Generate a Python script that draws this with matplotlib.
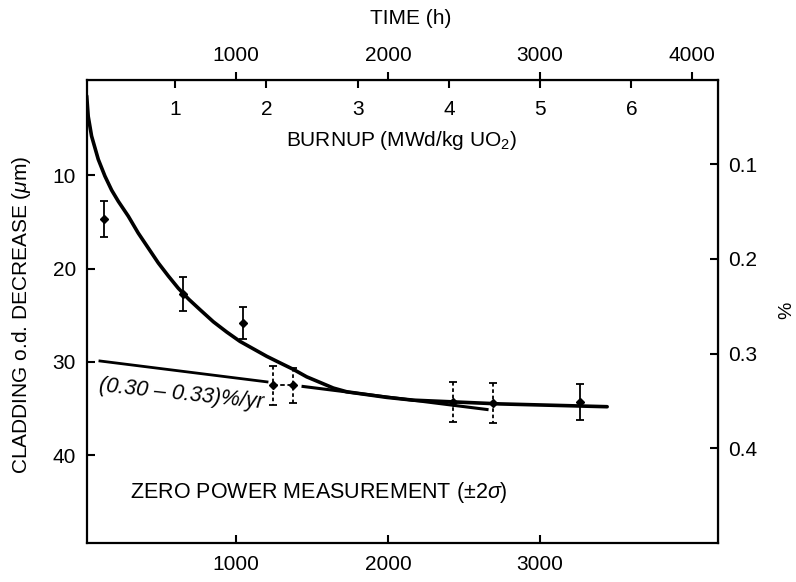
import numpy as np
import matplotlib
matplotlib.use("Agg")
import matplotlib.pyplot as plt

plt.rcParams['font.family'] = ['Liberation Sans', 'DejaVu Sans']
plt.rcParams['mathtext.fontset'] = 'custom'
plt.rcParams['mathtext.rm'] = 'Liberation Sans'
plt.rcParams['mathtext.it'] = 'Liberation Sans:italic'

# measured points: time (h), o.d. decrease (um), 2 sigma
t_pts = [132, 651, 1046, 1243, 1375, 2428, 2691, 3263]
d_pts = [14.7, 22.7, 25.8, 32.5, 32.5, 34.3, 34.4, 34.3]
err_pts = [1.9, 1.8, 1.7, 2.1, 1.9, 2.1, 2.1, 1.9]
dashed_bar = [False, False, False, True, True, True, True, False]

# fitted curve
t_curve = [18, 28, 50, 94, 138, 182, 226, 292, 357, 423, 489, 555, 620, 690,
           763, 851, 939, 1026, 1114, 1202, 1289, 1377, 1465, 1553, 1640,
           1728, 1860, 1991, 2167, 2737, 3441]
d_curve = [1.5, 3.7, 5.8, 8.3, 10.1, 11.6, 12.8, 14.4, 16.2, 17.8, 19.4, 20.8,
           22.1, 23.3, 24.4, 25.7, 26.8, 27.8, 28.6, 29.4, 30.1, 30.8, 31.6,
           32.2, 32.8, 33.2, 33.5, 33.8, 34.1, 34.5, 34.8]

# straight line (0.30-0.33)%/yr, drawn in two pieces
t_line1 = [105, 1204]
d_line1 = [29.9, 32.14]
t_line2 = [1441, 2651]
d_line2 = [32.63, 35.1]

time_ticks = [1000, 2000, 3000, 4000]
bottom_ticks = [1000, 2000, 3000]
burnup_ticks = [1, 2, 3, 4, 5, 6]
um_ticks = [10, 20, 30, 40]
pct_ticks = [0.1, 0.2, 0.3, 0.4]

fig = plt.figure(figsize=(7.96, 5.82), dpi=100)
ax = fig.add_axes([87/796, 1-543/582, (718-87)/796, (543-80)/582])

ax.plot(t_curve, d_curve, color='black', lw=2.6, solid_capstyle='round',
        solid_joinstyle='round')
ax.plot(t_line1, d_line1, color='black', lw=2.0)
ax.plot(t_line2, d_line2, color='black', lw=2.2)

for i in range(len(t_pts)):
    eb = ax.errorbar(t_pts[i], d_pts[i], yerr=err_pts[i], fmt='D', ms=4,
                     color='black', ecolor='black', elinewidth=1.3,
                     capsize=3, capthick=1.3)
    if dashed_bar[i]:
        eb[2][0].set_linestyle((0, (2, 1.5)))

# dashed link between the two points near 1300 h
ax.plot(t_pts[3:5], d_pts[3:5], color='black', lw=1.3, ls=(0, (2.5, 1.5)))

ax.set_xlim(20, 4170)
ax.set_ylim(49.4, -0.2)

for s in ax.spines.values():
    s.set_linewidth(1.6)

ax.set_xticks(bottom_ticks)
ax.set_yticks(um_ticks)
ax.tick_params(axis='both', direction='in', length=6, width=1.5,
               labelsize=15, pad=8)
ax.tick_params(axis='x', pad=9)

# top time axis
ax_time = ax.secondary_xaxis('top')
ax_time.set_xticks(time_ticks)
ax_time.tick_params(direction='out', length=6, width=1.5, labelsize=15, pad=5)

# burnup axis, labels inside the frame
ax_bu = ax.secondary_xaxis('top', functions=(lambda t: t/600.0, lambda b: b*600.0))
ax_bu.set_xticks(burnup_ticks)
ax_bu.tick_params(direction='in', length=6, width=1.5, labelsize=15, pad=-28)
ax_bu.spines['top'].set_visible(False)

# right axis in %
ax_pct = ax.secondary_yaxis('right', functions=(lambda u: (u+1.33)/101.5,
                                                 lambda p: p*101.5-1.33))
ax_pct.set_yticks(pct_ticks)
ax_pct.tick_params(direction='in', length=6, width=1.5, labelsize=15, pad=7)

fig.text(411/796, 1-18/582, 'TIME (h)', fontsize=15, ha='center', va='center')
fig.text(402/796, 1-140/582, 'BURNUP (MWd/kg UO$_2$)', fontsize=15,
         ha='center', va='center')
fig.text(787/796, 1-310/582, '%', rotation=90, fontsize=14, ha='center', va='center')
fig.text(22/796, 1-315/582, 'CLADDING o.d. DECREASE ($\\mu$m)', rotation=90,
         fontsize=15, ha='center', va='center')

ax.text(90, 33.5, '(0.30 \u2013 0.33)%/yr', fontsize=15.5, style='italic',
        rotation=-6, ha='left', va='center')
ax.text(300, 44.0, 'ZERO POWER MEASUREMENT (\u00b12$\\sigma$)', fontsize=15.5,
        ha='left', va='center')

fig.savefig('out.png', dpi=100)
